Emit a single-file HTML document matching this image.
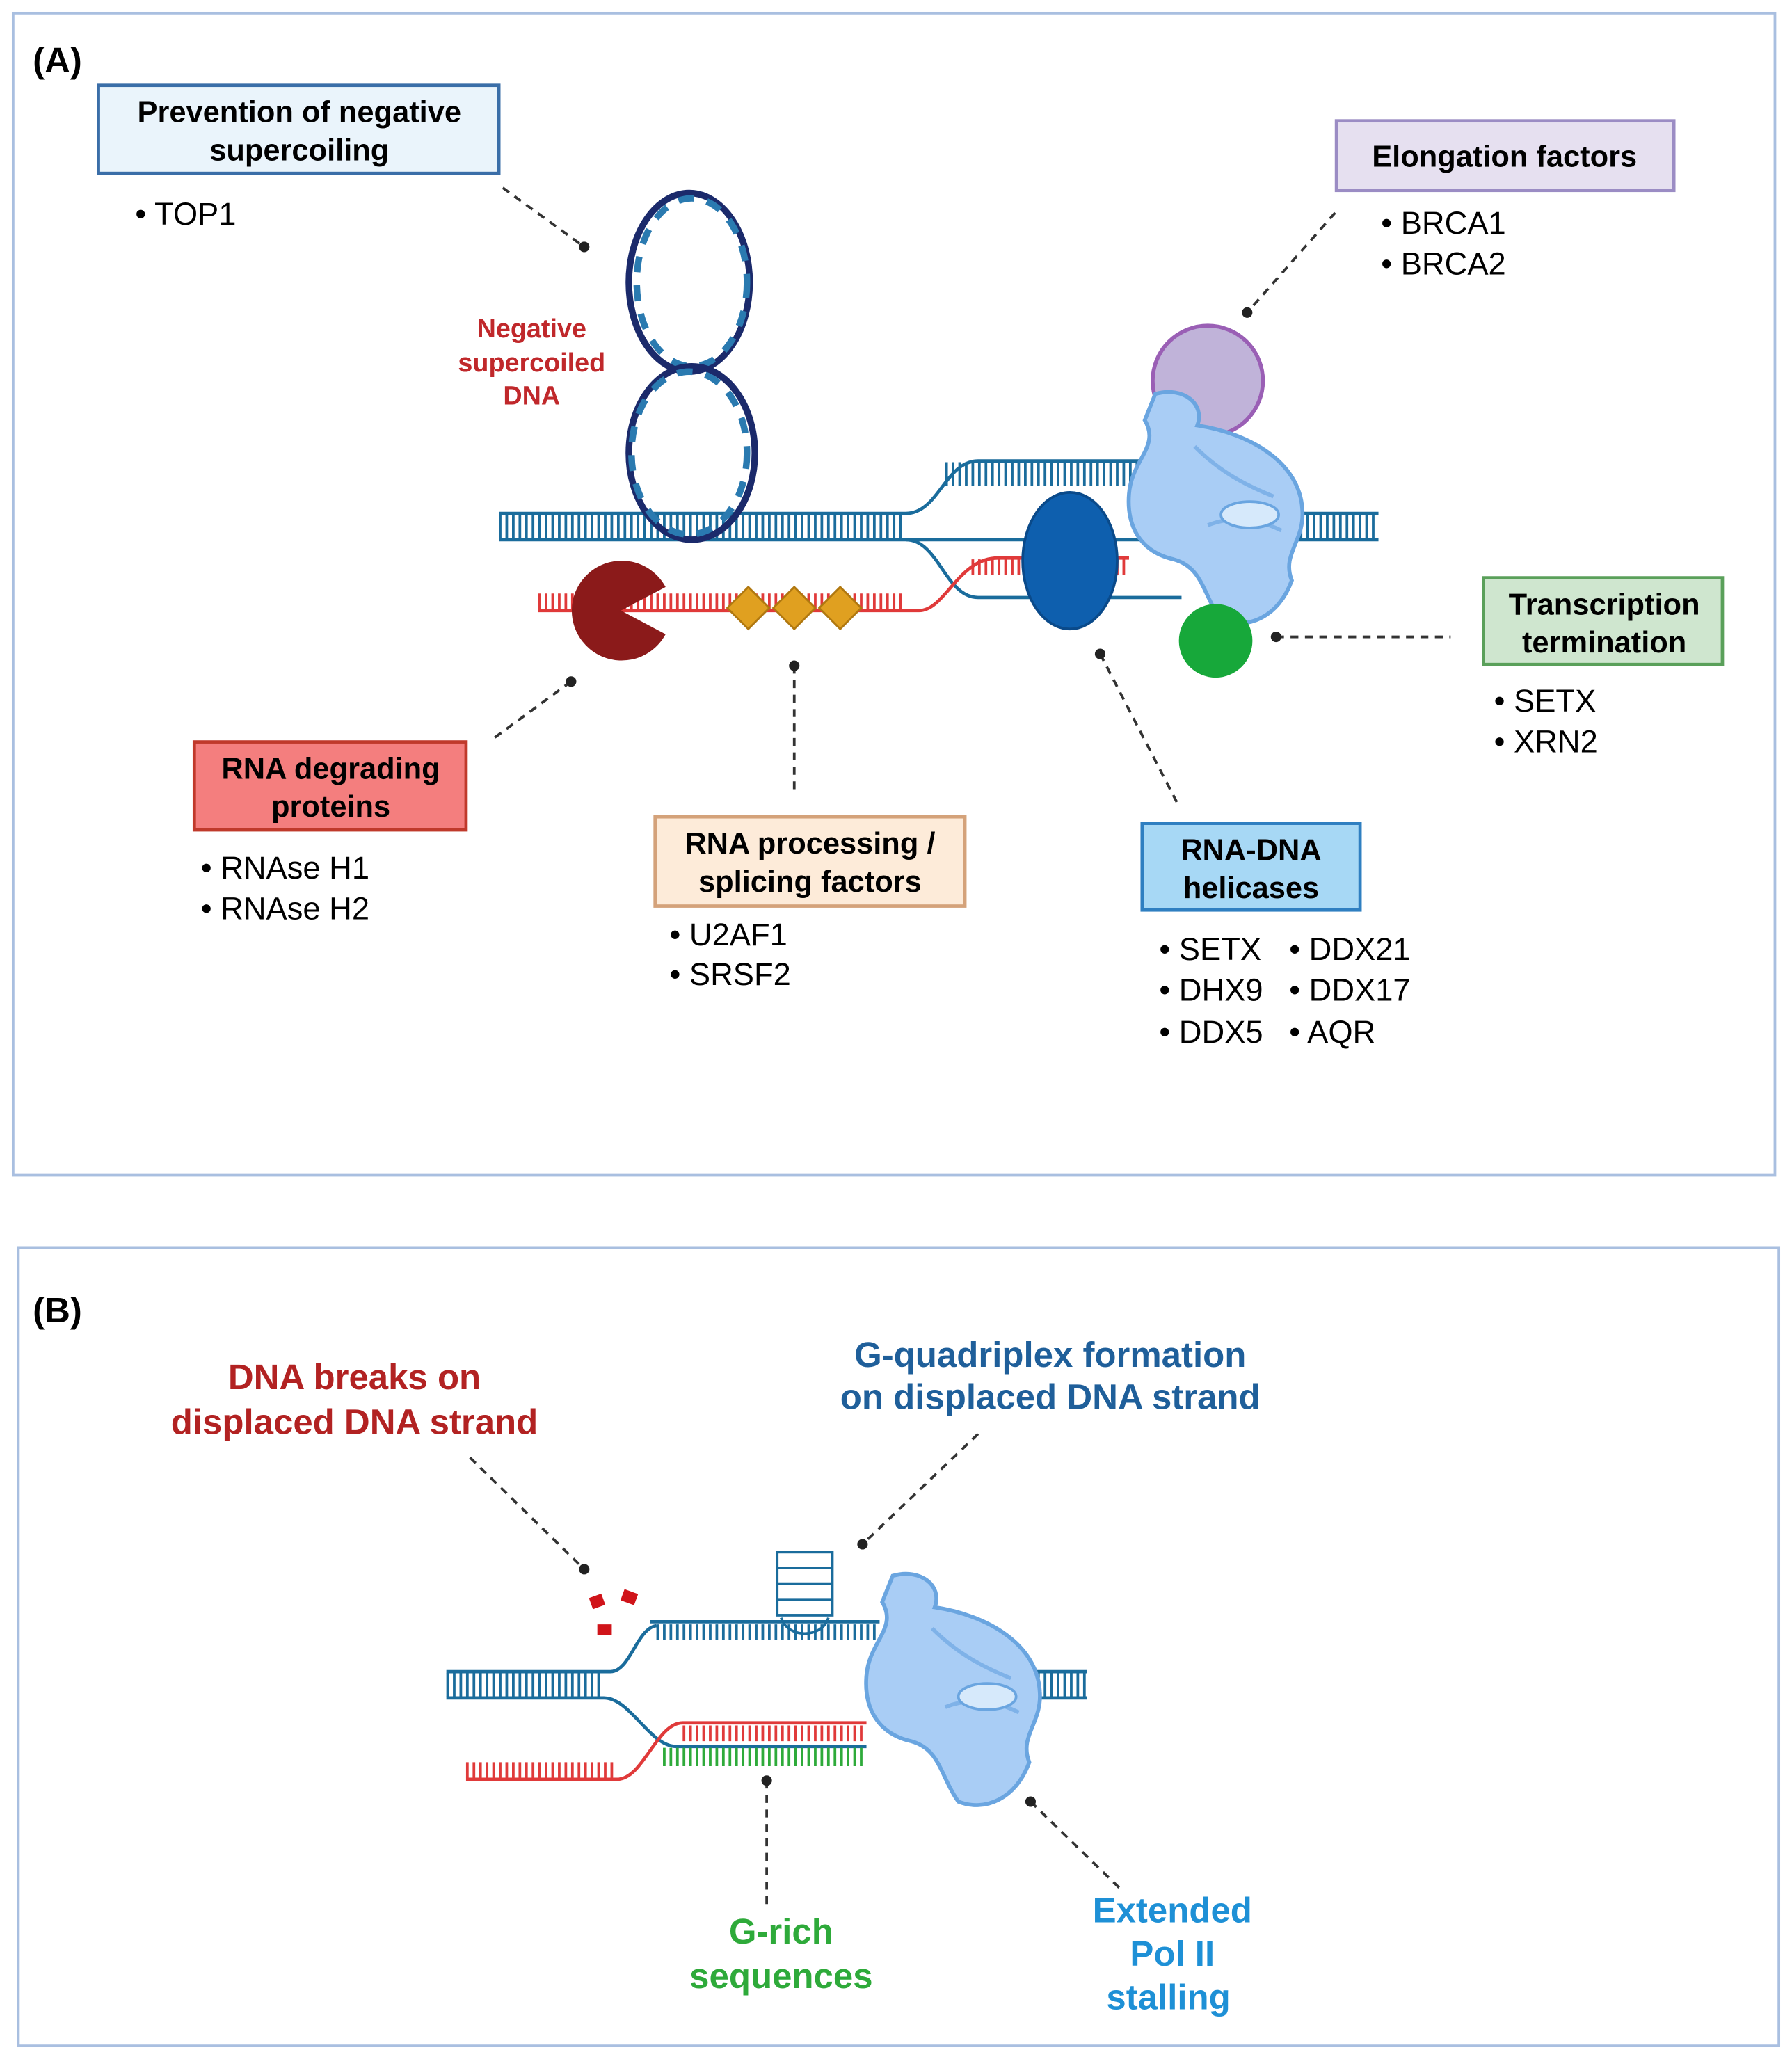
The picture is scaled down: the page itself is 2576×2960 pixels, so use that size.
<!DOCTYPE html>
<html><head><meta charset="utf-8"><style>
html,body{margin:0;padding:0;background:#fff;}
svg{display:block;}
text{font-family:"Liberation Sans",Arial,sans-serif;}
</style></head><body>
<svg width="2576" height="2960" viewBox="0 0 1365 1568" preserveAspectRatio="none" xmlns="http://www.w3.org/2000/svg">
<defs>
<g id="pol">
<path d="M0,0 C22,-6 38,8 32,24 C72,30 110,52 112,88 C114,112 96,122 104,142 C94,170 70,180 50,172 C36,152 36,132 14,126 C-12,120 -22,100 -20,76 C-18,50 4,40 -8,20 Z" fill="#a9cdf5" stroke="#6aa5e0" stroke-width="3"/>
<path d="M30,40 C50,60 70,70 90,78 M40,100 C60,92 80,96 96,104" fill="none" stroke="#7fb2e8" stroke-width="3"/>
<ellipse cx="72" cy="92" rx="22" ry="10" fill="#d6e9fb" stroke="#6aa5e0" stroke-width="2"/>
</g>
</defs>
<rect x="10" y="10" width="1342" height="885" fill="#fff" stroke="#a9bfe0" stroke-width="2"/>
<rect x="14" y="950" width="1341" height="608" fill="#fff" stroke="#a9bfe0" stroke-width="2"/>
<text x="25" y="55" font-size="27" font-weight="bold">(A)</text>
<text x="25" y="1007" font-size="27" font-weight="bold">(B)</text>

<rect x="75" y="65" width="305" height="67" fill="#eaf4fb" stroke="#3a6ea8" stroke-width="2.5"/>
<text x="228" y="93" font-size="23" font-weight="bold" text-anchor="middle">Prevention of negative</text>
<text x="228" y="122" font-size="23" font-weight="bold" text-anchor="middle">supercoiling</text>
<text x="103" y="171" font-size="24">• TOP1</text>

<rect x="1018" y="92" width="257" height="53" fill="#e6e0f0" stroke="#9b8cc4" stroke-width="2.5"/>
<text x="1146" y="127" font-size="23" font-weight="bold" text-anchor="middle">Elongation factors</text>
<text x="1052" y="178" font-size="24">• BRCA1</text>
<text x="1052" y="209" font-size="24">• BRCA2</text>

<rect x="1130" y="440" width="182" height="66" fill="#cfe6cf" stroke="#5aa05a" stroke-width="2.5"/>
<text x="1222" y="468" font-size="23" font-weight="bold" text-anchor="middle">Transcription</text>
<text x="1222" y="497" font-size="23" font-weight="bold" text-anchor="middle">termination</text>
<text x="1138" y="542" font-size="24">• SETX</text>
<text x="1138" y="573" font-size="24">• XRN2</text>

<rect x="148" y="565" width="207" height="67" fill="#f47e7e" stroke="#c0392b" stroke-width="2.5"/>
<text x="252" y="593" font-size="23" font-weight="bold" text-anchor="middle">RNA degrading</text>
<text x="252" y="622" font-size="23" font-weight="bold" text-anchor="middle">proteins</text>
<text x="153" y="669" font-size="24">• RNAse H1</text>
<text x="153" y="700" font-size="24">• RNAse H2</text>

<rect x="499" y="622" width="236" height="68" fill="#fdebd9" stroke="#d4a27a" stroke-width="2.5"/>
<text x="617" y="650" font-size="23" font-weight="bold" text-anchor="middle">RNA processing /</text>
<text x="617" y="679" font-size="23" font-weight="bold" text-anchor="middle">splicing factors</text>
<text x="510" y="720" font-size="24">• U2AF1</text>
<text x="510" y="750" font-size="24">• SRSF2</text>

<rect x="870" y="627" width="166" height="66" fill="#a7d8f5" stroke="#2f7fc1" stroke-width="2.5"/>
<text x="953" y="655" font-size="23" font-weight="bold" text-anchor="middle">RNA-DNA</text>
<text x="953" y="684" font-size="23" font-weight="bold" text-anchor="middle">helicases</text>
<text x="883" y="731" font-size="24">• SETX</text>
<text x="883" y="762" font-size="24">• DHX9</text>
<text x="883" y="794" font-size="24">• DDX5</text>
<text x="982" y="731" font-size="24">• DDX21</text>
<text x="982" y="762" font-size="24">• DDX17</text>
<text x="982" y="794" font-size="24">• AQR</text>

<text x="405" y="257" font-size="20" font-weight="bold" fill="#c0282b" text-anchor="middle">Negative</text>
<text x="405" y="283" font-size="20" font-weight="bold" fill="#c0282b" text-anchor="middle">supercoiled</text>
<text x="405" y="308" font-size="20" font-weight="bold" fill="#c0282b" text-anchor="middle">DNA</text>

<g fill="none" stroke="#1a6c9c">
<path d="M380,391 H690 C715,391 720,351 745,351 H870" stroke-width="2.5"/>
<path d="M380,411 H1050 M960,391 H1050" stroke-width="2.5"/>
<path d="M380,401 H690 M720,361 H870 M960,401 H1050" stroke-width="18" stroke-dasharray="2 3"/>
<path d="M690,411 C715,411 720,455 745,455 H900" stroke-width="2.5"/>
</g>
<g fill="none" stroke="#e03a3a">
<path d="M410,465 H700 C720,465 730,425 760,425 H860" stroke-width="2.5"/>
<path d="M410,458 H690 M740,432 H860" stroke-width="12" stroke-dasharray="2 3"/>
</g>
<g fill="none" stroke-width="5">
<ellipse cx="525" cy="215" rx="46" ry="68" stroke="#1b2a6b"/>
<ellipse cx="527" cy="215" rx="42" ry="64" stroke="#2a7ab0" stroke-dasharray="12 10"/>
<ellipse cx="527" cy="345" rx="48" ry="66" stroke="#1b2a6b"/>
<ellipse cx="525" cy="345" rx="44" ry="62" stroke="#2a7ab0" stroke-dasharray="12 10"/>
</g>
<path d="M473,465 L507,447 A38,38 0 1 0 507,483 Z" fill="#8b1a1a"/>
<g fill="#e0a020" stroke="#b07810" stroke-width="1.5">
<path d="M570,447 L586,463 L570,479 L554,463 Z"/>
<path d="M605,447 L621,463 L605,479 L589,463 Z"/>
<path d="M640,447 L656,463 L640,479 L624,463 Z"/>
</g>
<ellipse cx="815" cy="427" rx="36" ry="52" fill="#0e5fae" stroke="#0a4a8a" stroke-width="2"/>
<circle cx="920" cy="290" r="42" fill="#c0b3d9" stroke="#9a5fb5" stroke-width="3"/>
<use href="#pol" x="880" y="300"/>
<circle cx="926" cy="488" r="28" fill="#17a83a"/>

<g stroke="#333" stroke-width="2" stroke-dasharray="6 5" fill="none">
<path d="M383,143 L445,188"/><path d="M1017,162 L950,238"/><path d="M972,485 L1105,485"/>
<path d="M435,519 L375,563"/><path d="M605,507 L605,605"/><path d="M838,498 L897,612"/>
<path d="M358,1110 L445,1195"/><path d="M745,1092 L657,1176"/><path d="M584,1356 L584,1450"/><path d="M785,1372 L855,1440"/>
</g>
<g fill="#222">
<circle cx="445" cy="188" r="4"/><circle cx="950" cy="238" r="4"/><circle cx="972" cy="485" r="4"/>
<circle cx="435" cy="519" r="4"/><circle cx="605" cy="507" r="4"/><circle cx="838" cy="498" r="4"/>
<circle cx="445" cy="1195" r="4"/><circle cx="657" cy="1176" r="4"/><circle cx="584" cy="1356" r="4"/><circle cx="785" cy="1372" r="4"/>
</g>

<text x="270" y="1058" font-size="27" font-weight="bold" fill="#b22222" text-anchor="middle">DNA breaks on</text>
<text x="270" y="1092" font-size="27" font-weight="bold" fill="#b22222" text-anchor="middle">displaced DNA strand</text>
<text x="800" y="1041" font-size="27" font-weight="bold" fill="#1f5f9a" text-anchor="middle">G-quadriplex formation</text>
<text x="800" y="1073" font-size="27" font-weight="bold" fill="#1f5f9a" text-anchor="middle">on displaced DNA strand</text>
<text x="595" y="1480" font-size="27" font-weight="bold" fill="#2eaa3a" text-anchor="middle">G-rich</text>
<text x="595" y="1514" font-size="27" font-weight="bold" fill="#2eaa3a" text-anchor="middle">sequences</text>
<text x="893" y="1464" font-size="27" font-weight="bold" fill="#1e90d6" text-anchor="middle">Extended</text>
<text x="893" y="1497" font-size="27" font-weight="bold" fill="#1e90d6" text-anchor="middle">Pol  II</text>
<text x="890" y="1530" font-size="27" font-weight="bold" fill="#1e90d6" text-anchor="middle">stalling</text>

<g fill="none" stroke="#1a6c9c">
<path d="M340,1273 H465 C480,1273 485,1240 500,1238" stroke-width="2.5"/>
<path d="M495,1235 H670" stroke-width="2.5"/>
<path d="M340,1293 H460 C480,1293 495,1330 515,1330 H660" stroke-width="2.5"/>
<path d="M780,1273 H828 M780,1293 H828" stroke-width="2.5"/>
<path d="M340,1283 H460 M780,1283 H828" stroke-width="18" stroke-dasharray="2 3"/>
<path d="M500,1243 H670" stroke-width="12" stroke-dasharray="2 3"/>
</g>
<path d="M505,1338 H660" stroke="#2eaa3a" stroke-width="14" stroke-dasharray="2 3"/>
<g fill="none" stroke="#e03a3a">
<path d="M355,1355 H470 C490,1355 500,1312 520,1312 H660" stroke-width="2.5"/>
<path d="M355,1348 H470 M520,1320 H660" stroke-width="12" stroke-dasharray="2 3"/>
</g>
<g fill="none" stroke="#1a6c9c" stroke-width="2">
<rect x="592" y="1182" width="42" height="48"/>
<path d="M592,1194 H634 M592,1206 H634 M592,1218 H634"/>
<path d="M595,1232 C600,1248 626,1248 631,1232"/>
</g>
<g fill="#d0141a">
<rect x="450" y="1215" width="10" height="9" transform="rotate(-20 455 1220)"/>
<rect x="474" y="1212" width="11" height="9" transform="rotate(20 480 1216)"/>
<rect x="455" y="1237" width="11" height="8"/>
</g>
<use href="#pol" x="680" y="1200"/>
</svg>
</body></html>
